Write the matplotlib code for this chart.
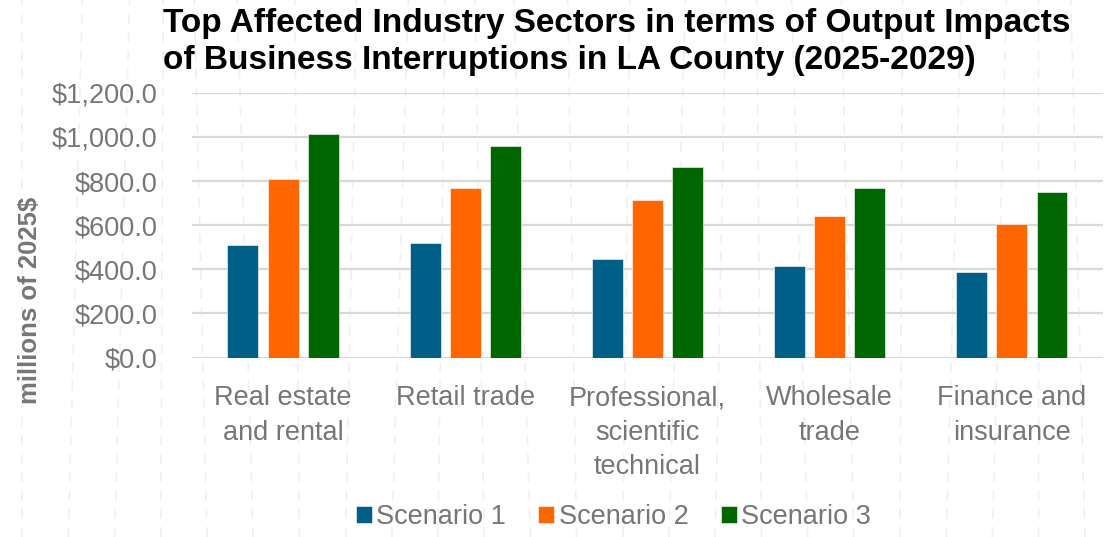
import numpy as np
import matplotlib
matplotlib.use("Agg")
from matplotlib import pyplot as plt
from matplotlib.lines import Line2D

plt.rcParams['font.family'] = ['Liberation Sans', 'DejaVu Sans']

categories = ["Real estate\nand rental", "Retail trade", "Professional,\nscientific\ntechnical",
              "Wholesale\ntrade", "Finance and\ninsurance"]
scenario_names = ["Scenario 1", "Scenario 2", "Scenario 3"]
scenario_1 = [512, 521, 445, 415, 389]
scenario_2 = [807, 767, 713, 641, 605]
scenario_3 = [1014, 957, 865, 768, 752]
y_ticks = [0, 200, 400, 600, 800, 1000, 1200]
colors = ["#005f86", "#ff6600", "#006600"]
gray = "#767676"

f = plt.figure(figsize=(11.07, 5.37), dpi=100)

# faint dashed background pattern
for i, x0 in enumerate(np.linspace(0.02, 0.98, 24)):
    f.add_artist(Line2D([x0, x0 + 0.015 * np.sin(i)], [0, 1], transform=f.transFigure,
                        color="#edf1f4", lw=1.2, ls=(0, (6, 5)), zorder=0))

ax = f.add_axes([0.1734, 0.334, 0.823, 0.4934])
ax.patch.set_alpha(0)

x = np.arange(len(categories))
step = 0.22
width = 0.17
for j, (vals, name) in enumerate(zip([scenario_1, scenario_2, scenario_3], scenario_names)):
    ax.bar(x + (j - 1) * step, vals, width, color=colors[j], label=name,
           edgecolor="white", linewidth=0.4, zorder=3)

ax.set_xlim(-0.5, len(categories) - 0.5)
ax.set_ylim(0, 1200)
ax.set_yticks(y_ticks)
ax.set_yticklabels(["${:,.1f}".format(v) for v in y_ticks])
ax.yaxis.grid(True, color="#d9d9d9", linewidth=1.6, zorder=0)
for s in ax.spines.values():
    s.set_visible(False)
ax.tick_params(axis="y", length=0, pad=25, labelsize=19.5, labelcolor=gray)
ax.set_xticks(x)
ax.set_xticklabels(categories, linespacing=1.42)
ax.tick_params(axis="x", length=0, pad=20, labelsize=19.5, labelcolor=gray)

f.text(0.027, 0.44, "millions of 2025$", rotation=90, ha="center", va="center",
       fontsize=18.5, fontweight="bold", color=gray)

f.text(0.147, 0.922, "Top Affected Industry Sectors in terms of Output Impacts\n"
       "of Business Interruptions in LA County (2025-2029)",
       ha="left", va="center", fontsize=24, fontweight="bold", color="black",
       linespacing=1.22)

f.legend(loc="center", bbox_to_anchor=(0.554, 0.037), ncol=3, frameon=False,
         fontsize=19.5, labelcolor=gray, handlelength=0.6, handleheight=0.6,
         handletextpad=0.15, columnspacing=1.2)

f.savefig("out.png", dpi=100)
